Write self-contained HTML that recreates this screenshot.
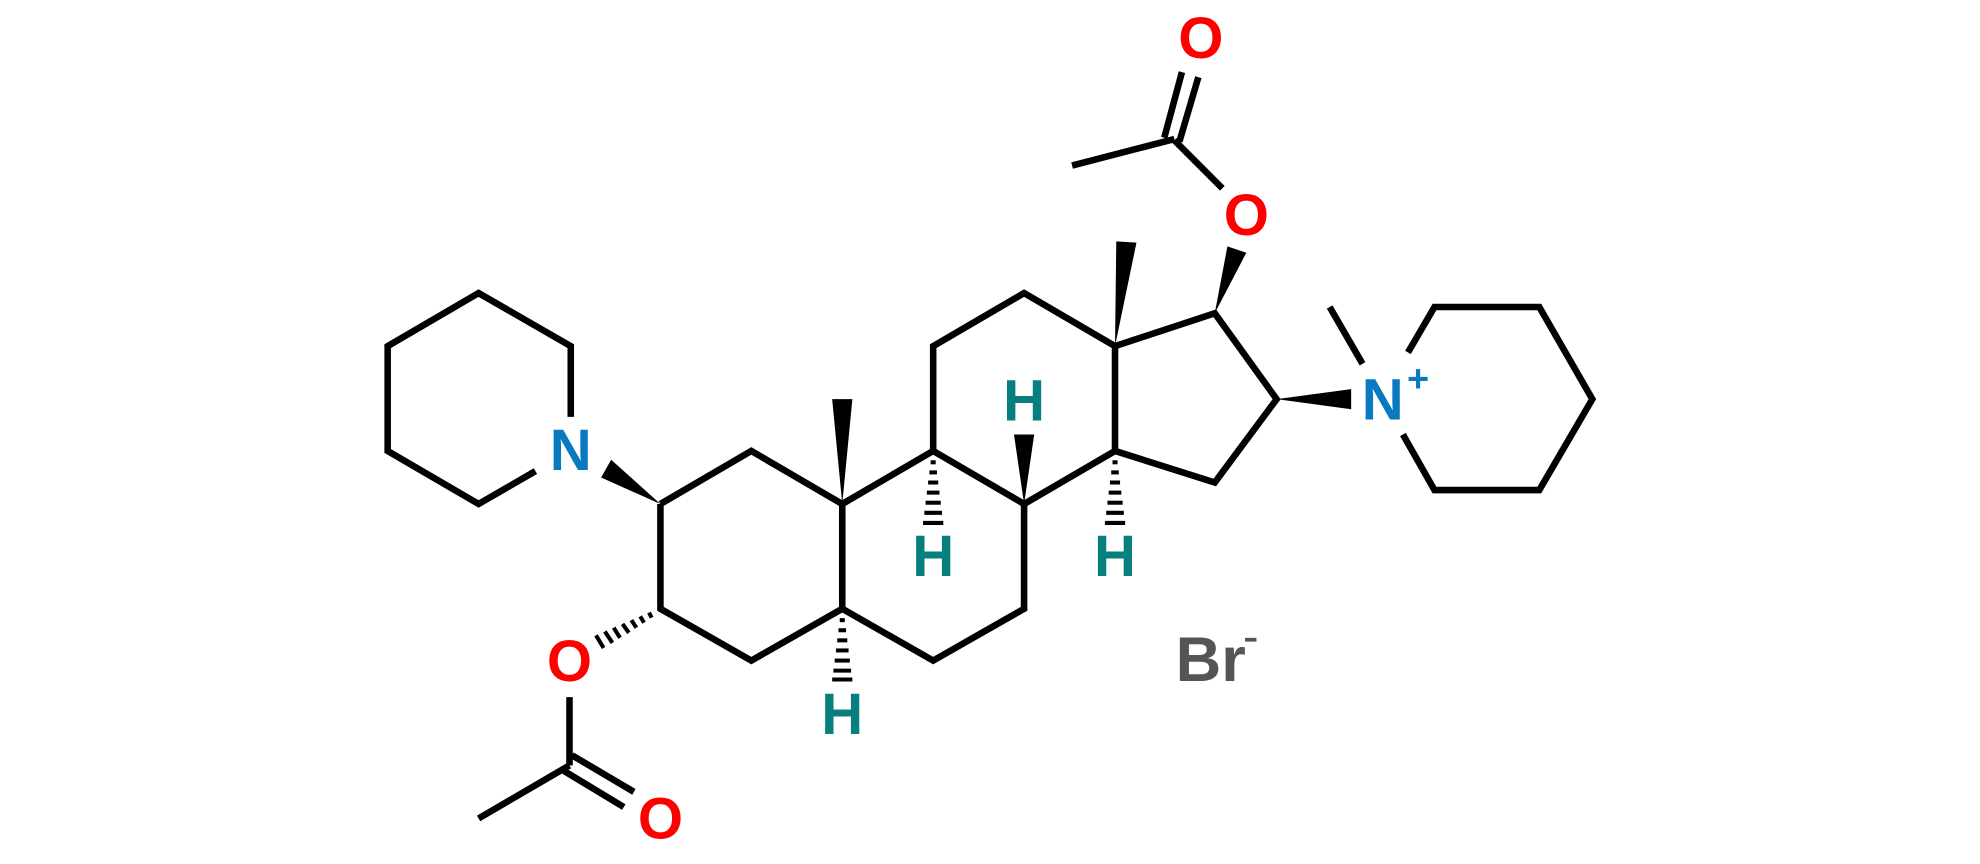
<!DOCTYPE html>
<html><head><meta charset="utf-8"><style>
html,body{margin:0;padding:0;background:#fff;}
svg{display:block}
text{font-family:"Liberation Sans",sans-serif;font-weight:bold;}
</style></head><body>
<svg width="1980" height="864" viewBox="0 0 1568 684" xmlns="http://www.w3.org/2000/svg">
<g stroke="#000" stroke-width="5.2" fill="none" stroke-linejoin="miter">
<polyline points="523,399 595,357 667,399 667,482 595,523 523,482 523,399"/>
<polyline points="667,399 739,357 811,399 811,482 739,523 667,482"/>
<polyline points="739,357 739,274 811,232 883,274 883,357 811,399"/>
<polyline points="883,274 962,248 1011,316 962,382 883,357"/>
<line x1="930" y1="111" x2="968" y2="149"/>
<line x1="849" y1="131" x2="930" y2="110"/>
<line x1="922" y1="109" x2="936" y2="57"/>
<line x1="934" y1="112" x2="949" y2="61"/>
<line x1="1053" y1="243" x2="1079" y2="288"/>
<polyline points="1115,279 1136,243 1219,243 1261,316 1219,388 1136,388 1111,344"/>
<polyline points="452,330 452,274 379,232 307,274 307,357 379,399 424,373"/>
<line x1="451" y1="552" x2="451" y2="606"/>
<line x1="451" y1="606" x2="379" y2="648"/>
<line x1="453" y1="598" x2="502" y2="627"/>
<line x1="446" y1="610" x2="494" y2="639"/>
</g>
<g fill="#000">
<polygon points="667,399 659,316 675,316"/>
<polygon points="883,274 884,191 900,192"/>
<polygon points="962,248 972,195 987,200"/>
<polygon points="1011,316 1070,308 1070,324"/>
<polygon points="523,399 476,378 484,364"/>
<polygon points="811,399 803,344 819,344"/>
</g>
<g stroke="#000" stroke-width="3.2">
<line x1="737" y1="366" x2="741" y2="366"/><line x1="736" y1="374" x2="742" y2="374"/><line x1="735" y1="382" x2="743" y2="382"/><line x1="734" y1="390" x2="744" y2="390"/><line x1="733" y1="398" x2="745" y2="398"/><line x1="732" y1="406" x2="746" y2="406"/><line x1="731" y1="414" x2="747" y2="414"/>
<line x1="881" y1="366" x2="885" y2="366"/><line x1="880" y1="374" x2="886" y2="374"/><line x1="879" y1="382" x2="887" y2="382"/><line x1="878" y1="390" x2="888" y2="390"/><line x1="877" y1="398" x2="889" y2="398"/><line x1="876" y1="406" x2="890" y2="406"/><line x1="875" y1="414" x2="891" y2="414"/>
<line x1="665" y1="491" x2="669" y2="491"/><line x1="664" y1="499" x2="670" y2="499"/><line x1="663" y1="507" x2="671" y2="507"/><line x1="662" y1="515" x2="672" y2="515"/><line x1="661" y1="523" x2="673" y2="523"/><line x1="660" y1="531" x2="674" y2="531"/><line x1="659" y1="538" x2="675" y2="538"/>
<line x1="514" y1="485" x2="516" y2="489"/><line x1="507" y1="488" x2="510" y2="493"/><line x1="500" y1="491" x2="504" y2="497"/><line x1="493" y1="494" x2="498" y2="501"/><line x1="486" y1="497" x2="491" y2="505"/><line x1="479" y1="500" x2="485" y2="509"/><line x1="472" y1="503" x2="478" y2="513"/>
</g>
<g font-size="46" text-anchor="middle">
<text x="951" y="46" fill="#f00">O</text>
<text x="987" y="186" fill="#f00">O</text>
<text x="451" y="539" fill="#f00">O</text>
<text x="523" y="664" fill="#f00">O</text>
<text x="1095" y="332" fill="#0a7ac0">N</text>
<text x="452" y="372" fill="#0a7ac0">N</text>
<text x="811" y="333" fill="#087f7f">H</text>
<text x="739" y="456" fill="#087f7f">H</text>
<text x="883" y="456" fill="#087f7f">H</text>
<text x="667" y="581" fill="#087f7f">H</text>
</g>
<text x="931" y="539" font-size="50" fill="#555">Br</text>
<text x="1123" y="310" font-size="30" fill="#0a7ac0" text-anchor="middle">+</text>
<rect x="986" y="505" width="9" height="3" fill="#555"/>
</svg>
</body></html>
